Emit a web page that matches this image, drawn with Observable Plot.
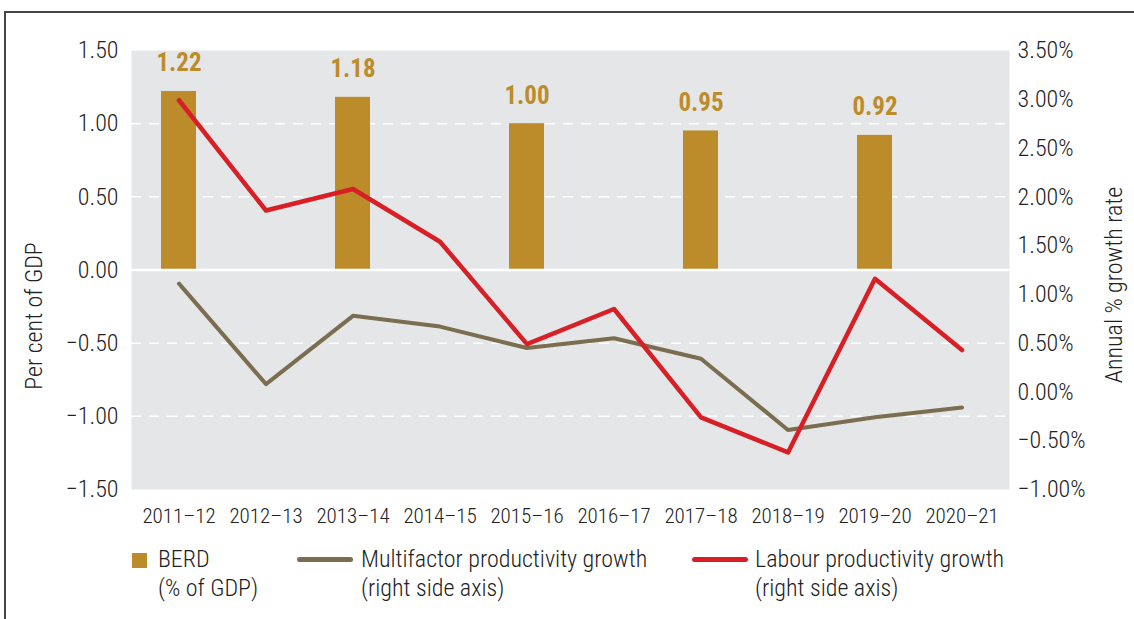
<!DOCTYPE html>
<html>
<head>
<meta charset="utf-8">
<script src="https://cdn.jsdelivr.net/npm/d3@7"></script>
<script src="https://cdn.jsdelivr.net/npm/@observablehq/plot@0.6"></script>
<style>
  body { margin: 0; background: #fff; font-family: "Roboto Condensed", "Liberation Sans Narrow", "DejaVu Sans Condensed", Roboto, sans-serif; font-weight: 300; }
  #wrap { position: relative; width: 1134px; height: 619px; overflow: hidden; }
  #frame { position: absolute; left: 4px; top: 11px; width: 1200px; height: 700px; border-left: 2px solid #444; border-top: 2px solid #444; }
  #chart { position: absolute; left: 0; top: 0; }
  #legend { position: absolute; top: 545px; left: 0; width: 1134px; height: 70px; font-size: 24px; color: #222; line-height: 29px; }
  .li { position: absolute; top: 0; }
  .sw { position: absolute; }
</style>
</head>
<body>
<div id="wrap">
  <div id="frame"></div>
  <div id="chart"></div>
  <div id="legend">
    <div class="sw" style="left:132px;top:8px;width:15px;height:15px;background:#bc8b2a"></div>
    <div class="li" style="left:158px">BERD<br>(% of GDP)</div>
    <div class="sw" style="left:297px;top:12px;width:56px;height:5px;border-radius:3px;background:#7b6d4f"></div>
    <div class="li" style="left:361px">Multifactor productivity growth<br>(right side axis)</div>
    <div class="sw" style="left:692px;top:12px;width:56px;height:5px;border-radius:3px;background:#d91f26"></div>
    <div class="li" style="left:755px">Labour productivity growth<br>(right side axis)</div>
  </div>
</div>
<script>
const years = ["2011–12","2012–13","2013–14","2014–15","2015–16","2016–17","2017–18","2018–19","2019–20","2020–21"];
const berdYears = ["2011–12","2013–14","2015–16","2017–18","2019–20"];
const berd = [1.22, 1.18, 1.00, 0.95, 0.92];
const mfp = [1.11, 0.08, 0.78, 0.67, 0.45, 0.55, 0.34, -0.39, -0.26, -0.16];
const labour = [2.99, 1.86, 2.08, 1.54, 0.49, 0.85, -0.26, -0.62, 1.16, 0.43];
const leftTicks = [-1.5, -1, -0.5, 0, 0.5, 1, 1.5];
const rightTicks = [-1, -0.5, 0, 0.5, 1, 1.5, 2, 2.5, 3, 3.5];
const leftDomain = [-1.5, 1.5];
const rightDomain = [-1, 3.5];

// map right-axis values onto the left scale
const toLeft = v => leftDomain[0] + (v - rightDomain[0]) * (leftDomain[1] - leftDomain[0]) / (rightDomain[1] - rightDomain[0]);
const fromLeft = v => rightDomain[0] + (v - leftDomain[0]) * (rightDomain[1] - rightDomain[0]) / (leftDomain[1] - leftDomain[0]);
const minus = s => s.replace("-", "−");

const bars = berdYears.map((y, i) => ({year: y, value: berd[i]}));
const mfpData = years.map((y, i) => ({year: y, value: toLeft(mfp[i])}));
const labData = years.map((y, i) => ({year: y, value: toLeft(labour[i])}));
const grid = leftTicks.filter(t => t !== 0 && Math.abs(t) !== 1.5);

const FONT = '"Roboto Condensed", "Liberation Sans Narrow", "DejaVu Sans Condensed", Roboto, sans-serif';

const plot = Plot.plot({
  width: 1134,
  height: 535,
  marginLeft: 131,
  marginRight: 125,
  marginTop: 50,
  marginBottom: 46,
  style: {fontFamily: FONT, fontSize: "20px", fontWeight: 300, color: "#222", background: "transparent"},
  x: {domain: years, paddingInner: 0.6, paddingOuter: 0.3, label: null},
  y: {domain: leftDomain, label: null},
  marks: [
    Plot.frame({fill: "#e5e6e8", stroke: null}),
    Plot.ruleY(grid, {stroke: "#fff", strokeWidth: 1.5, strokeDasharray: "10,8"}),
    Plot.barY(bars, {x: "year", y: "value", fill: "#bc8b2a"}),
    Plot.ruleY([0], {stroke: "#fff", strokeWidth: 2.5}),
    Plot.text(bars, {x: "year", y: "value", text: d => d.value.toFixed(2), dy: -28, fill: "#bc8b2a", fontWeight: "bold", fontSize: 25}),
    Plot.lineY(mfpData, {x: "year", y: "value", stroke: "#7b6d4f", strokeWidth: 4, strokeLinecap: "round", strokeLinejoin: "round"}),
    Plot.lineY(labData, {x: "year", y: "value", stroke: "#d91f26", strokeWidth: 4.5, strokeLinecap: "round", strokeLinejoin: "round"}),
    Plot.axisX({tickSize: 0, tickPadding: 19, fontSize: 21, label: null}),
    Plot.axisY({anchor: "left", ticks: leftTicks, tickSize: 0, tickPadding: 13, fontSize: 24, tickFormat: d => minus(d.toFixed(2)), label: null}),
    Plot.axisY({anchor: "right", ticks: rightTicks.map(toLeft), tickSize: 0, tickPadding: 8, fontSize: 24, tickFormat: d => minus(fromLeft(d).toFixed(2)) + "%", label: null})
  ]
});
document.getElementById("chart").appendChild(plot);

const svg = d3.select(plot);
svg.append("text").attr("transform", "translate(42,316) rotate(-90)").attr("text-anchor", "middle")
  .attr("font-size", 24).attr("fill", "#222").attr("font-family", FONT).text("Per cent of GDP");
svg.append("text").attr("transform", "translate(1122,285) rotate(-90)").attr("text-anchor", "middle")
  .attr("font-size", 24).attr("fill", "#222").attr("font-family", FONT).text("Annual % growth rate");
</script>
</body>
</html>
